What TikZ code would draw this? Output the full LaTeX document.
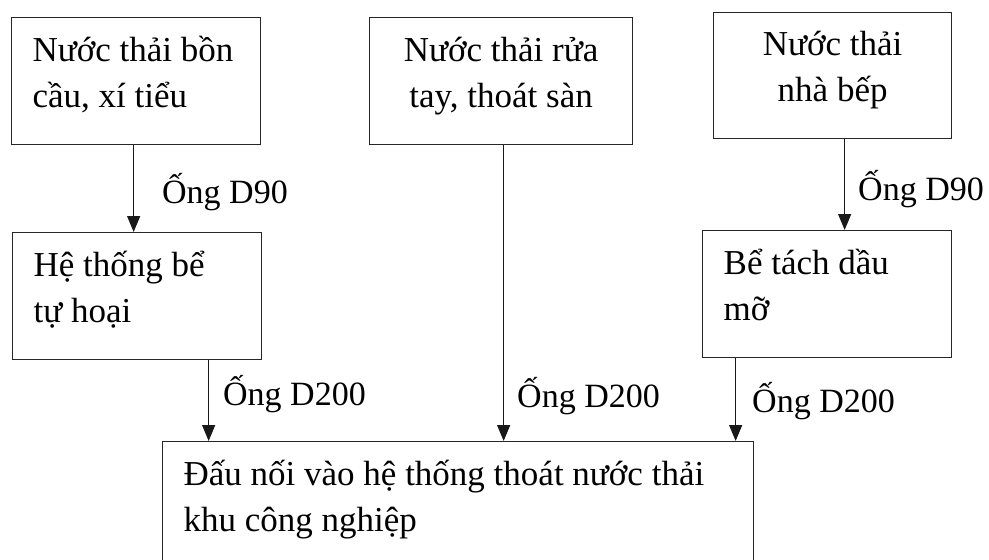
\documentclass[tikz,border=0pt]{standalone}
\usepackage{fontspec}
\setmainfont{Liberation Serif}
\usetikzlibrary{arrows.meta}

\tikzset{
  box/.style={draw=black!85, line width=1.3pt, rectangle, anchor=north west,
    font=\fontsize{35}{46}\selectfont,
    inner xsep=21pt, inner ysep=0pt, text height=44pt, text depth=83pt, align=flush left},
  lbl/.style={anchor=base west, inner sep=0pt, font=\fontsize{34}{40}\selectfont},
  pipe/.style={line width=1.3pt, black!90, -{Triangle[width=13pt,length=16pt]}}
}

\begin{document}
\begin{tikzpicture}[x=1pt, y=-1pt]
\clip (0,0) rectangle (989,560);
% sources
\node[box, text width=207pt] (toilet) at (11,17) {Nước thải bồn\\cầu, xí tiểu};
\node[box, text width=221pt, align=flush center] (wash) at (369,17) {Nước thải rửa\\tay, thoát sàn};
\node[box, text width=196pt, align=flush center, text height=43pt] (kitchen) at (713,12) {Nước thải\\nhà bếp};
% treatment
\node[box, text width=207pt] (septic) at (12,232) {Hệ thống bể\\tự hoại};
\node[box, text width=207pt] (grease) at (702,230) {Bể tách dầu\\mỡ};
% outlet
\node[box, text width=549pt] (outlet) at (162,441) {Đấu nối vào hệ thống thoát nước thải\\khu công nghiệp};

\draw[pipe] ([xshift=-2.5pt]toilet.south) -- ([xshift=-2.5pt]toilet.south |- septic.north);
\draw[pipe] ([xshift=12pt]kitchen.south) -- ([xshift=12pt]kitchen.south |- grease.north);
\draw[pipe] ([xshift=71.5pt]septic.south) -- ([xshift=71.5pt]septic.south |- outlet.north);
\draw[pipe] ([xshift=2.5pt]wash.south) -- ([xshift=2.5pt]wash.south |- outlet.north);
\draw[pipe] ([xshift=-91.5pt]grease.south) -- ([xshift=-91.5pt]grease.south |- outlet.north);

\node[lbl] (d90a) at (162,203) {Ống D90};
\node[lbl] (d90b) at (858,200) {Ống D90};
\node[lbl] (d200a) at (223,405) {Ống D200};
\node[lbl] (d200b) at (517,407) {Ống D200};
\node[lbl] (d200c) at (752,412) {Ống D200};
\end{tikzpicture}
\end{document}
